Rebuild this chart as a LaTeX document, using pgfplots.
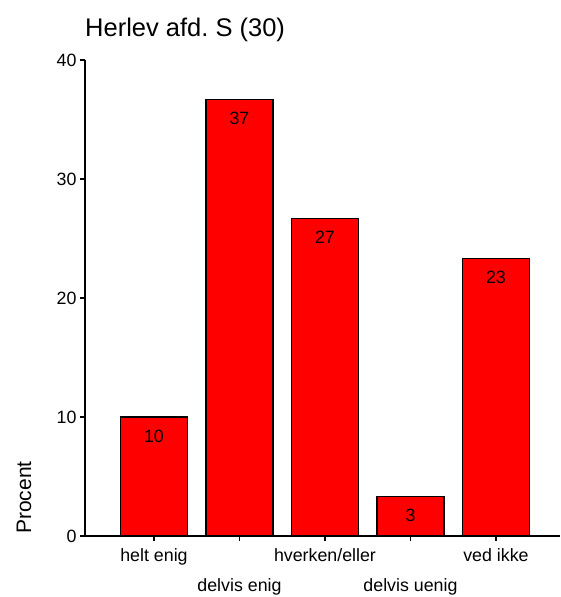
\documentclass[border=0pt]{standalone}
\usepackage{fontspec}
\setmainfont{Liberation Sans}
\usepackage{pgfplots}
\pgfplotsset{compat=1.18}
\frenchspacing
\begin{document}
\begin{tikzpicture}
\begin{axis}[
  at={(0pt,0pt)}, anchor=south west,
  scale only axis, width=475pt, height=476pt,
  xmin=-0.807, xmax=4.749, ymin=0, ymax=40,
  axis x line*=bottom, axis y line*=left,
  axis line style={line width=1.4pt, -},
  ytick={0,10,20,30,40},
  xtick={0,1,2,3,4},
  xticklabels={helt enig,\raisebox{-30pt}{delvis enig},hverken/eller,\raisebox{-30pt}{delvis uenig},ved ikke},
  tick align=outside, major tick length=5pt,
  tick style={line width=1.2pt, black},
  ticklabel style={font=\fontsize{17.8}{21}\selectfont},
  /pgf/number format/assume math mode=true,
  xticklabel style={anchor=base, yshift=-20pt},
  clip=false,
]
\addplot[ybar, bar width=0.784, fill=red, draw=black, line width=1.4pt,
  nodes near coords={\pgfmathprintnumber[fixed,precision=0]{\pgfplotspointmeta}},
  point meta=y,
  nodes near coords style={anchor=base, yshift=-25pt, font=\fontsize{17.8}{21}\selectfont, text=black}]
  coordinates {(0,10) (1,36.67) (2,26.67) (3,3.33) (4,23.33)};
\draw[line width=1.4pt] (rel axis cs:0,0) -- ++(-5pt,0);
\end{axis}
\node[anchor=base west, font=\fontsize{25.5}{30}\selectfont, inner sep=0pt] at (0pt,499pt) {Herlev afd. S (30)};
\node[rotate=90, font=\fontsize{21}{25}\selectfont, inner sep=0pt] at (-61pt,38.5pt) {Procent};
\pgfresetboundingbox
\useasboundingbox (-85pt,-61pt) rectangle (475pt,536pt);
\end{tikzpicture}
\end{document}
